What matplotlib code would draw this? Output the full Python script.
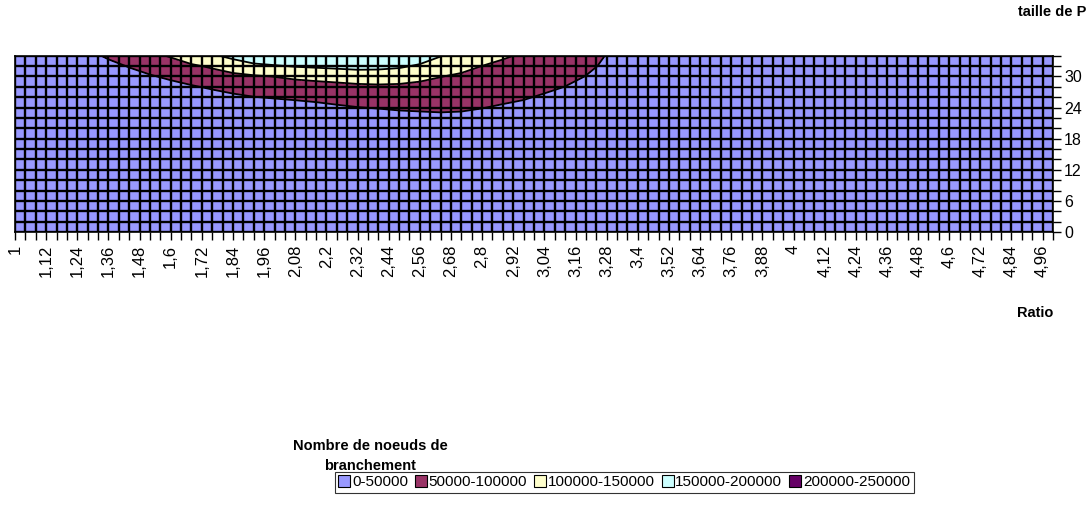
import numpy as np
import matplotlib
matplotlib.use("Agg")
import matplotlib.pyplot as plt
from matplotlib.lines import Line2D

plt.rcParams['font.family'] = ['Liberation Sans', 'DejaVu Sans']

# ---- categories ----
ratio = [round(1 + 0.04 * i, 2) for i in range(101)]          # x categories (Ratio)
taille = list(range(0, 35, 2))                                 # y series (taille de P)

# ---- surface values, region where values exceed 50000 ----
# everywhere outside this block the value stays in the 0-50000 band
x_sub = [1.28, 1.36, 1.44, 1.52, 1.60, 1.68, 1.76, 1.84, 1.92, 2.00, 2.08, 2.16, 2.24, 2.32,
         2.40, 2.48, 2.56, 2.64, 2.72, 2.80, 2.88, 2.96, 3.04, 3.12, 3.20, 3.28, 3.36]
y_sub = [22, 24, 26, 28, 30, 32, 34]
z_22 = [5, 5, 5, 5, 5, 5, 5, 5, 5, 6, 10, 15, 22, 28, 32, 37, 40, 42, 42, 39, 35, 31, 26, 27, 26, 24, 22]
z_24 = [5, 5, 5, 5, 5, 5, 9, 18, 26, 30, 33, 38, 44, 49, 52, 55, 56, 57, 55, 51, 46, 42, 36, 35, 33, 30, 25]
z_26 = [5, 5, 5, 5, 14, 22, 33, 42, 49, 53, 57, 61, 66, 70, 72, 74, 73, 71, 68, 63, 58, 53, 46, 42, 39, 34, 28]
z_28 = [5, 5, 10, 25, 36, 46, 56, 65, 72, 77, 81, 84, 87, 91, 93, 92, 89, 86, 81, 75, 70, 63, 57, 49.7, 44, 38, 31]
z_30 = [5, 12, 31, 46, 58, 70, 80, 89, 95, 101, 108, 113, 118, 123, 124, 121, 111, 101, 94, 88, 81, 74, 66, 57, 49.5, 42, 34]
z_32 = [15, 35, 53, 68, 80, 94, 106, 122, 138, 146, 153, 157, 161, 165, 163, 157, 144, 127, 112, 99.6, 93, 85, 76, 65, 55, 46, 37]
z_34 = [35, 58, 75, 89, 104, 125, 143, 164, 186, 191, 193, 195, 196, 196, 195, 194, 176, 152, 135, 119, 104, 96, 85, 72, 60.4, 49, 40]

Z = np.array([z_22, z_24, z_26, z_28, z_30, z_32, z_34]) * 1000.0

levels = [0, 50000, 100000, 150000, 200000, 250000]
legend_labels = ['0-50000', '50000-100000', '100000-150000', '150000-200000', '200000-250000']
colors = ['#9999FF', '#993366', '#FFFFCC', '#CCFFFF', '#660066']

fig = plt.figure(figsize=(10.89, 5.24), dpi=100)
ax = fig.add_axes([15 / 1089, 1 - 232 / 524, (1053 - 15) / 1089, (232 - 55.7) / 524])
ax.set_facecolor(colors[0])

ax.contourf(x_sub, y_sub, Z, levels=levels, colors=colors, zorder=1)
ax.contour(x_sub, y_sub, Z, levels=levels[1:4], colors='black', linewidths=1.3, zorder=3)

ax.set_xlim(ratio[0], ratio[-1])
ax.set_ylim(taille[0], taille[-1])

def fr(v):
    s = f"{v:.2f}".rstrip('0').rstrip('.')
    return s.replace('.', ',')

ax.set_xticks(ratio)
ax.set_xticklabels([fr(v) if i % 3 == 0 else '' for i, v in enumerate(ratio)],
                   rotation=90, va='top', ha='center')
ax.set_yticks(taille)
ax.set_yticklabels([str(v) if v % 6 == 0 else '' for v in taille])
ax.yaxis.tick_right()

ax.grid(True, color='black', linewidth=1.7)
ax.set_axisbelow(False)
for sp in ax.spines.values():
    sp.set_color('black')
    sp.set_linewidth(1.2)
    sp.set_zorder(4)

ax.tick_params(axis='x', direction='out', length=6, width=1, pad=3, labelsize=12, color='black')
ax.tick_params(axis='y', direction='out', length=6, width=1, pad=2, labelsize=11.5, color='black')

fig.text(1086 / 1089, 1 - 12 / 524, 'taille de P', ha='right', va='center', weight='bold', size=10.5)
fig.text(1035 / 1089, 1 - 313 / 524, 'Ratio', ha='center', va='center', weight='bold', size=10.5)
fig.text(370 / 1089, 1 - 456 / 524, 'Nombre de noeuds de\nbranchement', ha='center', va='center',
         weight='bold', size=10.5, linespacing=1.5)

handles = [Line2D([], [], marker='s', ls='none', markersize=8, markerfacecolor=c,
                  markeredgecolor='black', markeredgewidth=0.8) for c in colors]
leg = fig.legend(handles, legend_labels, loc='center', bbox_to_anchor=(624.5 / 1089, 1 - 482.5 / 524),
                 ncol=5, frameon=True, fancybox=False, edgecolor='black', handlelength=0.7,
                 handletextpad=0.15, columnspacing=0.5, borderpad=0.25, borderaxespad=0,
                 fontsize=11)
leg.get_frame().set_linewidth(0.8)

fig.savefig('out.png', dpi=100)
